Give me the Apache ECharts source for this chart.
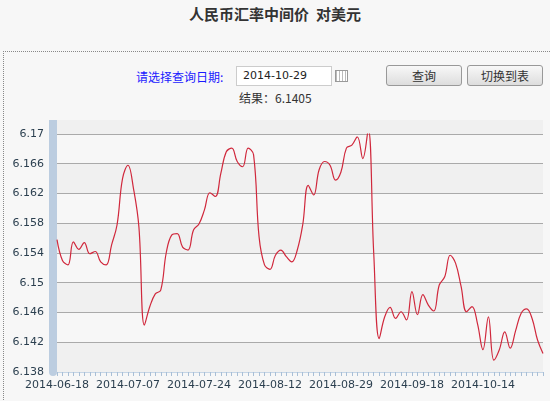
<!DOCTYPE html>
<html>
<head>
<meta charset="utf-8">
<script src="https://cdn.jsdelivr.net/npm/echarts@6/dist/echarts.min.js"></script>
<style>
  body { margin: 0; background: #f7f7f7; font-family: "DejaVu Sans", sans-serif; width: 550px; height: 401px; overflow: hidden; position: relative; }
  .title { position: absolute; top: 3px; left: 0; width: 550px; text-align: center; font: bold 15px "Noto Sans CJK SC"; color: #333; }
  .box { position: absolute; top: 51px; left: 3px; width: 560px; height: 360px; border-top: 1px dotted #888; border-left: 1px dotted #888; }
  .lbl { position: absolute; top: 68px; left: 136px; color: #1a1aff; font: 12px "Noto Sans CJK SC"; }
  .inp { position: absolute; top: 66px; left: 236px; width: 88px; height: 18px; border: 1px solid #ccc; background: #fff; font: 11px "DejaVu Sans"; padding-left: 6px; line-height: 18px; color: #222; }
  .cal { position: absolute; top: 70px; left: 335px; width: 11px; height: 10px; border: 1px solid #999; background: repeating-linear-gradient(90deg,#bbb 0 1px,#fff 1px 3px); }
  .btn { position: absolute; top: 65px; height: 19px; border: 1px solid #999; border-radius: 3px; background: linear-gradient(#f8f8f8,#ddd); font: 12px "Noto Sans CJK SC"; text-align: center; line-height: 19px; color: #333; }
  .res { position: absolute; top: 89px; left: 239px; font: 12px "Noto Sans CJK SC"; color: #333; }
  #main { position: absolute; left: 0; top: 110px; width: 550px; height: 291px; }
</style>
</head>
<body>
<div class="title">人民币汇率中间价&nbsp;&nbsp;对美元</div>
<div class="box"></div>
<div class="lbl">请选择查询日期:</div>
<div class="inp">2014-10-29</div>
<div class="cal"></div>
<div class="btn" style="left:386px;width:74px;">查询</div>
<div class="btn" style="left:467px;width:74px;">切换到表</div>
<div class="res">结果：6.1405</div>
<div id="main"></div>
<script>
var dates = [
  '2014-06-18','2014-06-19','2014-06-20','2014-06-23','2014-06-24','2014-06-25','2014-06-26','2014-06-27','2014-06-30',
  '2014-07-01','2014-07-02','2014-07-03','2014-07-04','2014-07-07','2014-07-08','2014-07-09','2014-07-10','2014-07-11',
  '2014-07-14','2014-07-15','2014-07-16','2014-07-17','2014-07-18','2014-07-21','2014-07-22','2014-07-23','2014-07-24',
  '2014-07-25','2014-07-28','2014-07-29','2014-07-30','2014-07-31','2014-08-01','2014-08-04','2014-08-05','2014-08-06',
  '2014-08-07','2014-08-08','2014-08-11','2014-08-12','2014-08-13','2014-08-14','2014-08-15','2014-08-18','2014-08-19',
  '2014-08-20','2014-08-21','2014-08-22','2014-08-25','2014-08-26','2014-08-27','2014-08-28','2014-08-29','2014-09-01',
  '2014-09-02','2014-09-03','2014-09-04','2014-09-05','2014-09-09','2014-09-10','2014-09-11','2014-09-12','2014-09-15',
  '2014-09-16','2014-09-17','2014-09-18','2014-09-19','2014-09-22','2014-09-23','2014-09-24','2014-09-25','2014-09-26',
  '2014-09-29','2014-09-30','2014-10-08','2014-10-09','2014-10-10','2014-10-13','2014-10-14','2014-10-15','2014-10-16',
  '2014-10-17','2014-10-20','2014-10-21','2014-10-22','2014-10-23','2014-10-24','2014-10-27','2014-10-28','2014-10-29'
];
var rates = [
  6.1558,6.1530,6.1524,6.1555,6.1545,6.1554,6.1539,6.1542,6.1528,6.1524,
  6.1551,6.1578,6.1640,6.1658,6.1627,6.1575,6.1443,6.1468,6.1485,6.1490,
  6.1540,6.1564,6.1566,6.1548,6.1544,6.1571,6.1579,6.1598,6.1621,6.1616,
  6.1647,6.1676,6.1681,6.1663,6.1656,6.1681,6.1672,6.1562,6.1524,6.1518,
  6.1537,6.1544,6.1535,6.1528,6.1544,6.1578,6.1631,6.1618,6.1652,6.1663,
  6.1658,6.1638,6.1649,6.1681,6.1685,6.1696,6.1667,6.1706,6.1540,6.1425,
  6.1454,6.1467,6.1452,6.1461,6.1450,6.1488,6.1457,6.1484,6.1470,6.1462,
  6.1497,6.1508,6.1537,6.1526,6.1495,6.1461,6.1468,6.1445,6.1410,6.1454,
  6.1396,6.1410,6.1434,6.1412,6.1436,6.1459,6.1465,6.1452,6.1423,6.1405
];

var myChart = echarts.init(document.getElementById('main'));
myChart.setOption({
  animation: false,
  grid: { left: 57, right: 7, top: 24, bottom: 29 },
  graphic: [
    // strip of background above the top gridline, like the reference
    { type: 'rect', left: 49, top: 10, shape: { width: 8, height: 14 }, style: { fill: '#bccde0' }, silent: true },
    { type: 'rect', left: 57, top: 10, shape: { width: 486, height: 14 }, style: { fill: '#f0f0f0' }, silent: true }
  ],
  xAxis: {
    type: 'category',
    data: dates,
    boundaryGap: false,
    axisLine: { lineStyle: { color: '#c5d5e6', width: 1 } },
    axisTick: { interval: 0, length: 4, lineStyle: { color: '#a9bfd6' } },
    axisLabel: { interval: 12, color: '#2b3f4f', fontSize: 11, fontFamily: 'DejaVu Sans', margin: 8 },
    splitLine: { show: false }
  },
  yAxis: {
    type: 'value',
    min: 6.138, max: 6.17, interval: 0.004,
    axisLine: { show: true, onZero: false, lineStyle: { color: '#bccde0', width: 8 } },
    offset: 4,
    axisTick: { show: false },
    axisLabel: { color: '#2b3f4f', fontSize: 11, fontFamily: 'DejaVu Sans', margin: 9,
      formatter: function (v) { return String(+v.toFixed(3)); } },
    splitLine: { lineStyle: { color: '#aaaaaa', width: 1 } },
    splitArea: { show: true, areaStyle: { color: ['#f0f0f0', '#f7f7f7'] } }
  },
  series: [{
    type: 'line',
    data: rates,
    smooth: 0.4,
    showSymbol: false,
    lineStyle: { color: '#d0283c', width: 1.2 }
  }]
});
</script>
</body>
</html>
